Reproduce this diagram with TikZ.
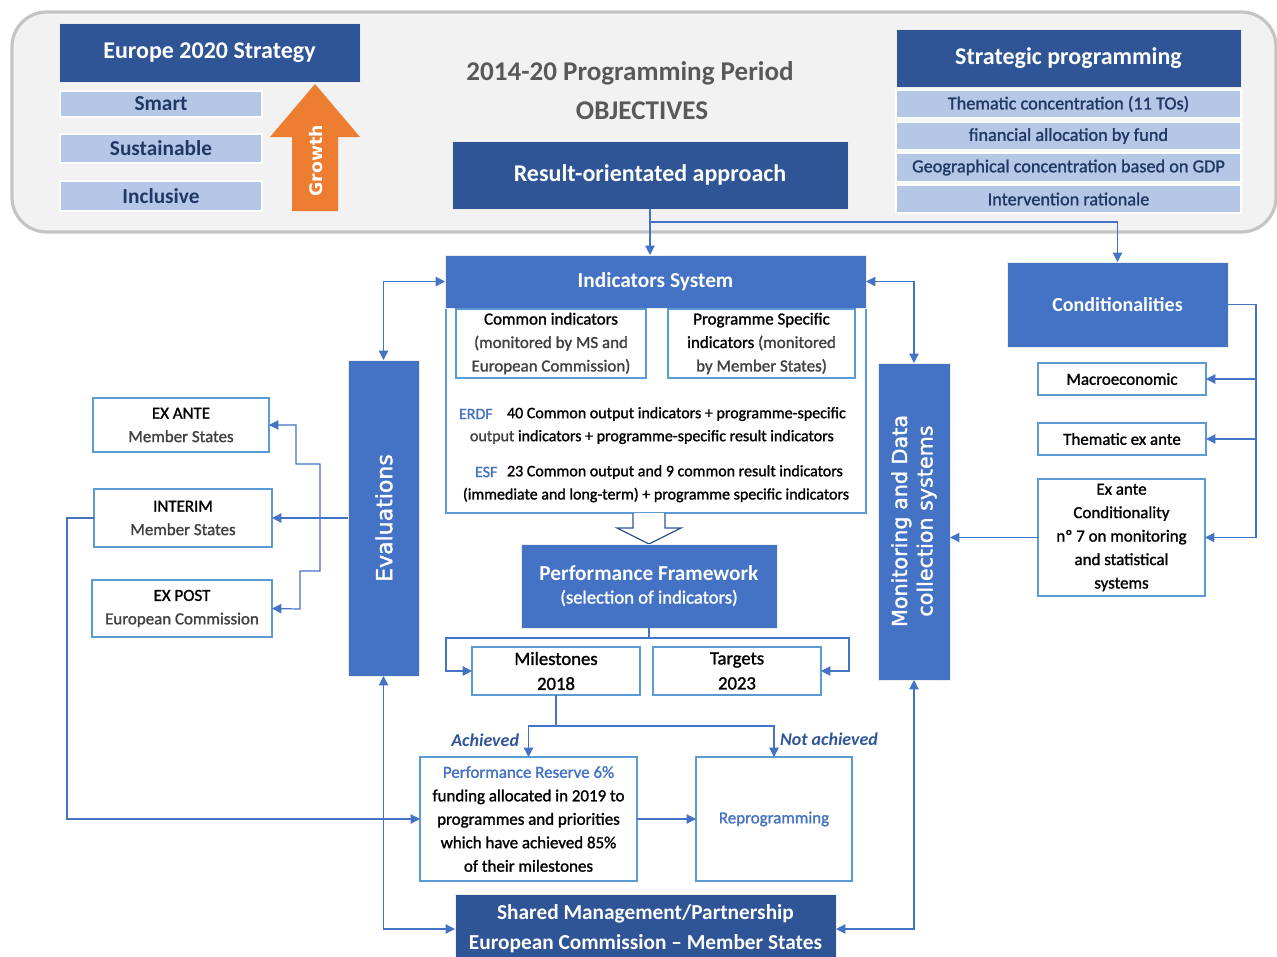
\documentclass[tikz,border=0pt]{standalone}
\usepackage{fontspec}
\setmainfont{Carlito}[UprightFeatures={FakeBold=1.3},ItalicFeatures={FakeBold=1.0}]
\newfontfamily\verd{DejaVu Sans}[UprightFeatures={FakeBold=1.6}]
\usetikzlibrary{arrows.meta,calc}

\definecolor{navy}{HTML}{2F5597}
\definecolor{midblue}{HTML}{4472C4}
\definecolor{lightblue}{HTML}{B4C7E7}
\definecolor{textnavy}{HTML}{1F3864}
\definecolor{boxblue}{HTML}{5B9BD5}
\definecolor{lineblue}{HTML}{4472C4}
\definecolor{panelfill}{HTML}{F2F2F2}
\definecolor{panelline}{HTML}{C4C4C4}
\definecolor{growthorange}{HTML}{ED7D31}
\definecolor{gtext}{HTML}{404040}
\definecolor{titlegray}{HTML}{595959}

\newcommand\fz[2]{\fontsize{#1}{#2}\selectfont}
% box from corner (x1,y1) to corner (x2,y2), in pixel units
\newcommand\bx[7]{\node[#1,minimum width={(#5-#3)*0.75pt},minimum height={(#6-#4)*0.75pt}] (#2) at ({(#3+#5)/2},{(#4+#6)/2}) {#7};}

\tikzset{
  every node/.style={inner sep=0pt, outer sep=0pt},
  darkbox/.style={fill=navy, draw=white!85!gray, line width=0.6pt, text=white, align=center},
  midbox/.style={fill=midblue, draw=white!85!gray, line width=0.6pt, text=white, align=center},
  lightbox/.style={fill=lightblue, draw=white, line width=1.2pt, text=textnavy, align=center},
  whitebox/.style={fill=white, draw=boxblue, line width=1.2pt, align=center},
  conn/.style={draw=lineblue, line width=0.9pt},
  arr/.style={conn, -{Triangle[length=7pt,width=7pt]}},
  arr2/.style={conn, {Triangle[length=7pt,width=7pt]}-{Triangle[length=7pt,width=7pt]}},
  bigtitle/.style={font=\bfseries\fz{18}{22}},
  headtitle/.style={font=\bfseries\fz{16}{22.5}},
  boxtext/.style={font=\fz{12.7}{17.6}},
}

\begin{document}
\begin{tikzpicture}[x=0.75pt,y=-0.75pt]
\useasboundingbox (0,0) rectangle (1277,956);

% objectives panel
\draw[fill=panelfill, draw=panelline, line width=2.4pt, rounded corners=26pt] (12,12) rectangle (1276,232);

% Europe 2020 strategy
\bx{darkbox,bigtitle}{e2020}{59}{23}{360}{82}{Europe 2020 Strategy}
\bx{lightbox,font=\bfseries\fz{16}{18}}{smart}{60}{91}{262}{117}{Smart}
\bx{lightbox,font=\bfseries\fz{16}{18}}{sust}{60}{134}{262}{163}{Sustainable}
\bx{lightbox,font=\bfseries\fz{16}{18}}{incl}{60}{181}{262}{211}{Inclusive}
\fill[growthorange] (292,211) -- (338,211) -- (338,137) -- (360,137) -- (315,84) -- (270,137) -- (292,137) -- cycle;
\node[rotate=90, text=white, font=\verd\bfseries\fz{13}{15}] (growth) at (316,161) {Growth};

% period objectives
\node[text=titlegray, font=\bfseries\fz{20.3}{24}] (title1) at (630,73) {2014-20 Programming Period};
\node[text=titlegray, font=\bfseries\fz{20.3}{24}] (title2) at (642,111) {OBJECTIVES};
\bx{darkbox,bigtitle}{ra}{452}{141}{848}{209}{Result-orientated approach}

% strategic programming
\bx{darkbox,bigtitle}{sp}{896}{29}{1241}{87}{Strategic programming}
\bx{lightbox,font=\fz{13.7}{16}}{t1}{896}{90}{1241}{118}{Thematic concentration (11 TOs)}
\bx{lightbox,font=\fz{13.7}{16}}{t2}{896}{122}{1241}{150}{financial allocation by fund}
\bx{lightbox,font=\fz{13.7}{16}}{t3}{896}{153}{1241}{182}{Geographical concentration based on GDP}
\bx{lightbox,font=\fz{13.7}{16}}{t4}{896}{185}{1241}{213}{Intervention rationale}

% indicators system
\bx{whitebox}{indb}{446}{304}{866}{513}{}
\bx{midbox,headtitle}{ind}{445}{255}{866}{308}{Indicators System}
\bx{whitebox,boxtext}{ci}{456}{309}{646}{378}{Common indicators\\\textcolor{gtext}{(monitored by MS and}\\\textcolor{gtext}{European Commission)}}
\bx{whitebox,boxtext}{psi}{668}{309}{855}{378}{Programme Specific\\indicators \textcolor{gtext}{(monitored}\\\textcolor{gtext}{by Member States)}}
\begin{scope}[every node/.append style={font=\fz{12}{14}}]
\node[anchor=west, text=midblue] (erdf) at (459,414) {ERDF};
\node[anchor=west] (erdf1) at (507,414) {40 Common output indicators + programme-specific};
\node[anchor=west] (erdf2) at (470,437) {\textcolor{gtext}{output} indicators + programme-specific result indicators};
\node[anchor=west, text=midblue] (esf) at (475,472) {ESF};
\node[anchor=west] (esf1) at (507,472) {23 Common output and 9 common result indicators};
\node (esf2) at (656,495) {(immediate and long-term) + programme specific indicators};
\end{scope}

% hollow arrow towards the performance framework
\draw[navy, line width=0.9pt, fill=white] (633,513) -- (633,528) -- (617,528) -- (649,544) -- (681,528) -- (665,528) -- (665,513);

% performance framework
\bx{midbox}{pf}{521}{544}{777}{628}{{\bfseries\fz{16}{20}Performance Framework}\\[5pt]{\fz{14}{18}(selection of indicators)}}
\bx{whitebox,font=\fz{14}{18.7}}{ms}{472}{647}{640}{695}{Milestones\\2018}
\bx{whitebox,font=\fz{14}{18.7}}{tg}{653}{647}{821}{695}{Targets\\2023}
\bx{whitebox,boxtext}{pr}{420}{757}{637}{881}{\textcolor{midblue}{Performance Reserve 6\%}\\funding allocated in 2019 to\\programmes and priorities\\which have achieved 85\%\\of their milestones}
\bx{whitebox,boxtext,text=midblue}{rp}{696}{757}{852}{881}{Reprogramming}
\node[anchor=east, text=navy, font=\bfseries\itshape\fz{13.5}{16}] (ach) at (519,740) {Achieved};
\node[anchor=west, text=navy, font=\bfseries\itshape\fz{13.5}{16}] (nach) at (780,739) {Not achieved};

% shared management
\bx{darkbox,headtitle}{sm}{455}{894}{836}{964}{Shared Management/Partnership\\European Commission -- Member States}

% evaluations
\bx{midbox}{ev}{348}{360}{419}{676}{}
\node[rotate=90, text=white, font=\verd\fz{16.5}{19}] (evt) at (384,518) {Evaluations};
\bx{whitebox,boxtext}{exante}{93}{398}{269}{452}{EX ANTE\\\textcolor{gtext}{Member States}}
\bx{whitebox,boxtext}{interim}{94}{489}{272}{547}{INTERIM\\\textcolor{gtext}{Member States}}
\bx{whitebox,boxtext}{expost}{92}{580}{272}{637}{EX POST\\\textcolor{gtext}{European Commission}}

% monitoring
\bx{midbox}{mon}{878}{363}{950}{680}{}
\node[rotate=90, text=white, font=\verd\fz{15.5}{19}, align=center] (mont) at (914,521) {Monitoring and Data\\collection systems};

% conditionalities
\bx{midbox,font=\bfseries\fz{15}{18}}{cond}{1007}{262}{1228}{347}{Conditionalities}
\bx{whitebox,boxtext}{macro}{1038}{363}{1206}{395}{Macroeconomic}
\bx{whitebox,boxtext}{them}{1038}{423}{1206}{455}{Thematic ex ante}
\bx{whitebox,boxtext}{eac}{1038}{479}{1205}{596}{Ex ante\\Conditionality\\nº 7 on monitoring\\and statistical\\systems}

% connectors
\draw[arr] (ra.south) -- (ra.south |- ind.north);
\draw[arr] ($(ra.south)+(0,13)$) -| (cond.north);
\draw[arr2] (ev.north) |- (ind.west);
\draw[arr2] (mon.north) |- (ind.east);
\draw[arr2] (ev.south) |- (sm.west);
\draw[arr2] (mon.south) |- (sm.east);

\draw[arr] (ev.west |- interim.east) -- (interim.east);
\coordinate (q1) at (296,464);
\coordinate (q2) at (320,571);
\coordinate (q3) at (300,609);
\draw[arr2] (exante.east) -| (q1) -| (q2) -| (q3) -- (expost.east);
\draw[arr] (interim.west) -- ++(-27,0) |- (pr.west);

\coordinate (cr) at (1256,305);
\draw[conn] (cond.east) -- (cond.east -| cr) -- (cr |- eac.east);
\draw[arr] (cr |- macro.east) -- (macro.east);
\draw[arr] (cr |- them.east) -- (them.east);
\draw[arr] (cr |- eac.east) -- (eac.east);
\draw[arr] (eac.west) -- (eac.west -| mon.east);

\coordinate (bl) at (446,638);
\coordinate (br) at (849,638);
\draw[conn] (pf.south) -- (pf.south |- bl);
\draw[arr] (bl -| pf.south) -- (bl) |- (ms.west);
\draw[arr] (br -| pf.south) -- (br) |- (tg.east);

\coordinate (mj) at (557,726);
\draw[conn] (ms.south) -- (ms.south |- mj);
\draw[arr] (ms.south |- mj) -| (pr.north);
\draw[arr] (ms.south |- mj) -| (rp.north);
\draw[arr] (pr.east) -- (rp.west);
\end{tikzpicture}
\end{document}
